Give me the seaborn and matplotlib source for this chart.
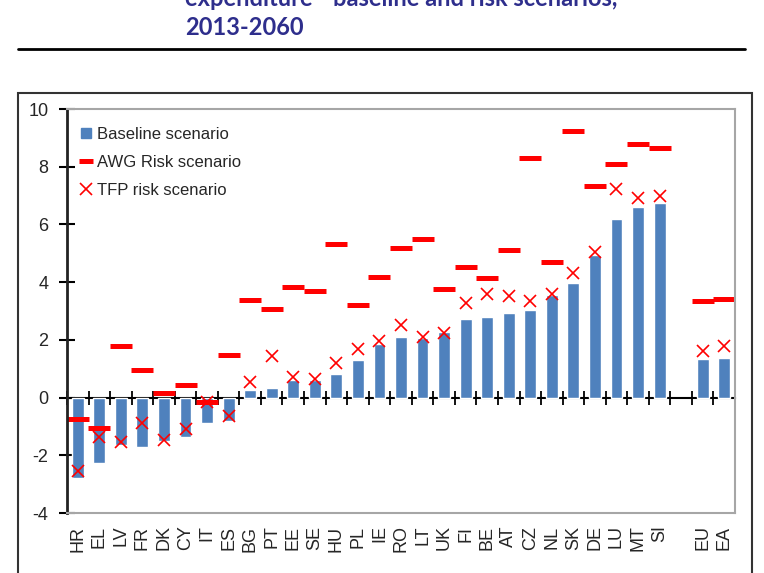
import numpy as np
import pandas as pd
import matplotlib
matplotlib.use("Agg")
import matplotlib.pyplot as plt
from matplotlib.lines import Line2D
from matplotlib.patches import Rectangle
import seaborn as sns

# ---- data ----
countries = ["HR", "EL", "LV", "FR", "DK", "CY", "IT", "ES", "BG", "PT", "EE", "SE",
             "HU", "PL", "IE", "RO", "LT", "UK", "FI", "BE", "AT", "CZ", "NL", "SK",
             "DE", "LU", "MT", "SI", "", "EU", "EA"]
baseline = [-2.8, -2.28, -1.65, -1.72, -1.5, -1.38, -0.87, -0.82, 0.25, 0.33, 0.6, 0.6,
            0.8, 1.3, 1.85, 2.1, 2.07, 2.28, 2.72, 2.78, 2.93, 3.02, 3.55, 3.97,
            4.95, 6.2, 6.6, 6.75, np.nan, 1.33, 1.38]
awg_risk = [-0.73, -1.07, 1.78, 0.95, 0.17, 0.42, -0.14, 1.48, 3.38, 3.07, 3.83, 3.69,
            5.33, 3.21, 4.17, 5.17, 5.48, 3.76, 4.52, 4.14, 5.1, 8.3, 4.69, 9.24,
            7.34, 8.1, 8.8, 8.64, np.nan, 3.34, 3.41]
tfp_risk = [-2.55, -1.35, -1.55, -0.87, -1.48, -1.1, -0.17, -0.65, 0.55, 1.45, 0.72, 0.65,
            1.2, 1.7, 1.97, 2.5, 2.1, 2.25, 3.27, 3.58, 3.52, 3.35, 3.6, 4.32,
            5.03, 7.24, 6.92, 7.0, np.nan, 1.62, 1.8]
legend_labels = ["Baseline scenario", "AWG Risk scenario", "TFP risk scenario"]
title_line1 = "expenditure - baseline and risk scenarios,"
title_line2 = "2013-2060"
yticks = [-4, -2, 0, 2, 4, 6, 8, 10]

df = pd.DataFrame({"country": countries, "baseline": baseline,
                   "awg": awg_risk, "tfp": tfp_risk})
df = df[df["country"] != ""]

BLUE = "#4F81BD"
RED = "#FF0000"

sns.set_theme(style="white")
plt.rcParams["font.family"] = ["Liberation Sans", "DejaVu Sans"]

fig = plt.figure(figsize=(7.64, 5.73), dpi=100)
ax = fig.add_axes([67 / 764, 1 - 513 / 573, (735 - 67) / 764, (513 - 109) / 573])

sns.barplot(data=df, x="country", y="baseline", order=countries, color=BLUE,
            saturation=1, width=0.55, ax=ax, errorbar=None)
sns.pointplot(data=df, x="country", y="awg", order=countries, color=RED,
              errorbar=None, ax=ax, marker="_", linestyle="none",
              markersize=16, markeredgewidth=3.6)
sns.pointplot(data=df, x="country", y="tfp", order=countries, color=RED,
              errorbar=None, ax=ax, marker="x", linestyle="none",
              markersize=8.5, markeredgewidth=1.2)

n = len(countries)
ax.set_xlim(-0.5, n - 0.5)
ax.set_ylim(-4, 10)
ax.set_yticks(yticks)
ax.set_yticklabels([str(v) for v in yticks], fontsize=13)
ax.set_xticks(range(n))
ax.set_xticklabels(countries, rotation=90, fontsize=13)
ax.set_xlabel("")
ax.set_ylabel("")
ax.tick_params(axis="x", length=0, pad=9)
ax.tick_params(axis="y", direction="inout", length=11, width=1.5, color="black",
               pad=8, left=True)
for s in ["top", "right", "bottom"]:
    ax.spines[s].set_color("#A6A6A6")
    ax.spines[s].set_linewidth(1.5)
    ax.spines[s].set_visible(True)
ax.spines["left"].set_color("#222222")
ax.spines["left"].set_linewidth(2)

# zero axis with category-boundary ticks
sec = ax.secondary_xaxis(4 / 14)
sec.set_xticks(np.arange(-0.5, n, 1.0))
sec.tick_params(direction="inout", length=10, width=1.3, color="black",
                labelbottom=False, labeltop=False)
sec.spines["bottom"].set_color("black")
sec.spines["bottom"].set_linewidth(1.5)
sec.spines["top"].set_visible(False)

handles = [
    Line2D([], [], marker="s", color=BLUE, linestyle="none", markersize=7),
    Line2D([], [], marker="_", color=RED, linestyle="none", markersize=10,
           markeredgewidth=3.6),
    Line2D([], [], marker="x", color=RED, linestyle="none", markersize=8,
           markeredgewidth=1.2),
]
ax.legend(handles, legend_labels, loc="upper left", bbox_to_anchor=(0.0, 0.985),
          frameon=False, fontsize=12, handlelength=0.9, handletextpad=0.2,
          labelspacing=0.78, borderaxespad=0.3)

# title and frame decorations
fig.text(185 / 764, 1 - 6 / 573, title_line1, fontsize=17, fontweight="bold",
         color="#2E2E8C", va="baseline", ha="left", family=["Lato", "DejaVu Sans"])
fig.text(185 / 764, 1 - 35 / 573, title_line2, fontsize=17, fontweight="bold",
         color="#2E2E8C", va="baseline", ha="left", family=["Lato", "DejaVu Sans"])
fig.add_artist(Line2D([18 / 764, 745 / 764], [1 - 49 / 573] * 2,
                      transform=fig.transFigure, color="black", lw=2))
fig.add_artist(Rectangle((18 / 764, -0.05), (752 - 18) / 764, 1 - 93 / 573 + 0.05,
                         transform=fig.transFigure, fill=False,
                         edgecolor="#333333", lw=1.5))

fig.savefig("out.png", dpi=100)
